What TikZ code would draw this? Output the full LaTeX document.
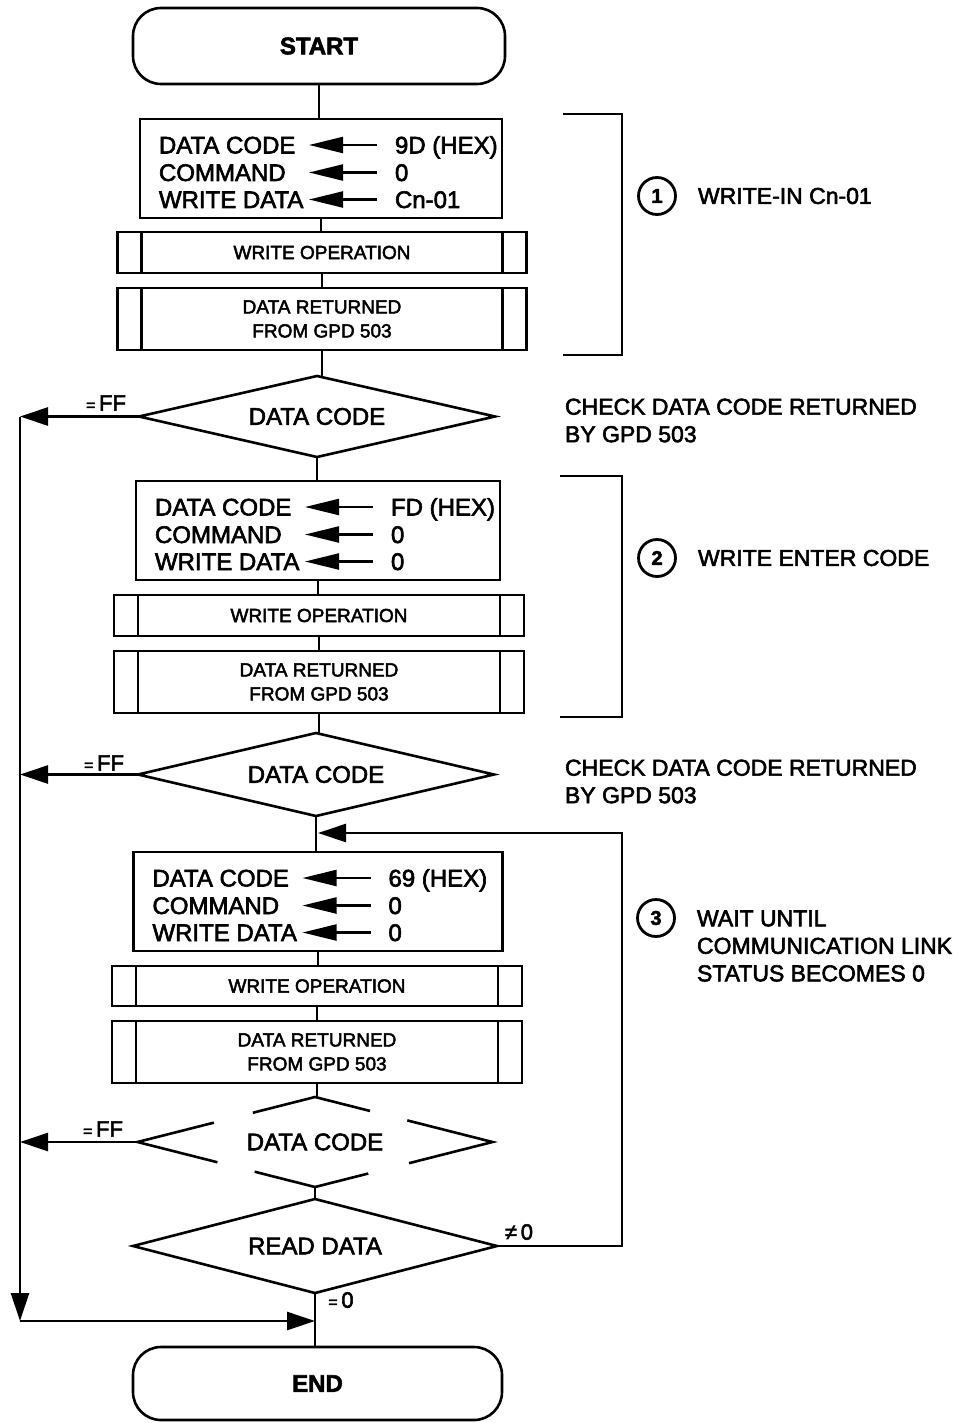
\documentclass[tikz,border=0pt]{standalone}
\usepackage{fontspec}
\setmainfont{Liberation Sans}[FakeBold=2.5]
\usetikzlibrary{arrows.meta,calc}
\newcommand\assignrows[4]{%
  \node[lbl] (#1la) at ($(#1.north west)+(19,26)$) {DATA CODE};
  \node[lbl] (#1lb) at ($(#1.north west)+(19,53.5)$) {COMMAND};
  \node[lbl] (#1lc) at ($(#1.north west)+(19,80.5)$) {WRITE DATA};
  \node[lbl] (#1va) at ($(#1.north west)+(255,26)$) {#2};
  \node[lbl] (#1vb) at ($(#1.north west)+(255,53.5)$) {#3};
  \node[lbl] (#1vc) at ($(#1.north west)+(255,80.5)$) {#4};
  \draw[ptr] ($(#1va.west)+(-18,0)$) -- ($(#1va.west)+(-86,0)$);
  \draw[ptr] ($(#1vb.west)+(-18,0)$) -- ($(#1vb.west)+(-86,0)$);
  \draw[ptr] ($(#1vc.west)+(-18,0)$) -- ($(#1vc.west)+(-86,0)$);
}
\newcommand\innerbars[1]{%
  \draw ([xshift=24pt]#1.north west) -- ([xshift=24pt]#1.south west);
  \draw ([xshift=-24pt]#1.north east) -- ([xshift=-24pt]#1.south east);
}
\begin{document}
\begin{tikzpicture}[x=1pt,y=-1pt,line width=2.6pt,
  every node/.style={inner sep=0pt,outer sep=0pt},
  term/.style={draw,line width=2.6pt,rounded corners=28pt,minimum height=76pt,
    font=\bfseries\fontsize{24}{28}\selectfont},
  setbox/.style={draw,line width=2.6pt,minimum height=99pt},
  proc/.style={draw,line width=2.6pt,align=center,font=\fontsize{19}{24}\selectfont},
  dia/.style={minimum width=#1,font=\fontsize{24}{28}\selectfont},
  lbl/.style={anchor=west,font=\fontsize{24}{28}\selectfont,text height=17pt,text depth=0pt},
  ptr/.style={-{Triangle[length=34pt,width=16pt]},line width=2.2pt},
  flow/.style={-{Triangle[length=28pt,width=18pt]},line width=2.6pt},
  note/.style={anchor=west,align=left,font=\fontsize{23}{27.5}\selectfont},
  num/.style={draw,circle,line width=2.8pt,minimum size=37pt,font=\bfseries\fontsize{20}{22}\selectfont},
  cond/.style={font=\fontsize{22}{24}\selectfont}]
\useasboundingbox (0,0) rectangle (972,1423);

% ---- section 1
\node[term,minimum width=372pt] (start) at (319,46) {START};
\node[setbox,minimum width=362pt] (b1) at (321,168.5) {};
\assignrows{b1}{9D (HEX)}{0}{Cn-01}
\node[proc,minimum width=409pt,minimum height=41pt] (wo1) at (322,252.5) {WRITE OPERATION};
\innerbars{wo1}
\node[proc,minimum width=409pt,minimum height=62pt] (dr1) at (322,319) {DATA RETURNED\\FROM GPD 503};
\innerbars{dr1}
\node[dia=356pt,minimum height=81pt] (d1) at (317,416.5) {DATA CODE};
\draw (d1.west) -- (d1.north) -- (d1.east) -- (d1.south) -- cycle;

% ---- section 2
\node[setbox,minimum width=364pt] (b2) at (318,530.5) {};
\assignrows{b2}{FD (HEX)}{0}{0}
\node[proc,minimum width=410pt,minimum height=41pt] (wo2) at (319,615.5) {WRITE OPERATION};
\innerbars{wo2}
\node[proc,minimum width=410pt,minimum height=62pt] (dr2) at (319,682) {DATA RETURNED\\FROM GPD 503};
\innerbars{dr2}
\node[dia=356pt,minimum height=83pt] (d2) at (316,774.5) {DATA CODE};
\draw (d2.west) -- (d2.north) -- (d2.east) -- (d2.south) -- cycle;

% ---- section 3
\node[setbox,minimum width=369pt] (b3) at (318,901.5) {};
\assignrows{b3}{69 (HEX)}{0}{0}
\node[proc,minimum width=410pt,minimum height=40pt] (wo3) at (317,986) {WRITE OPERATION};
\innerbars{wo3}
\node[proc,minimum width=410pt,minimum height=62pt] (dr3) at (317,1052) {DATA RETURNED\\FROM GPD 503};
\innerbars{dr3}
\node[dia=355pt,minimum height=90pt] (d3) at (315,1142) {DATA CODE};
\draw ($(d3.west)!0.43!(d3.north)$) -- (d3.west) -- ($(d3.west)!0.45!(d3.south)$);
\draw ($(d3.north)!0.35!(d3.west)$) -- (d3.north) -- ($(d3.north)!0.31!(d3.east)$);
\draw ($(d3.east)!0.48!(d3.north)$) -- (d3.east) -- ($(d3.east)!0.47!(d3.south)$);
\draw ($(d3.south)!0.34!(d3.west)$) -- (d3.south) -- ($(d3.south)!0.30!(d3.east)$);
\node[dia=364pt,minimum height=94pt] (rd) at (315,1246) {READ DATA};
\draw (rd.west) -- (rd.north) -- (rd.east) -- (rd.south) -- cycle;
\node[term,minimum width=369pt,minimum height=73pt] (end) at (317.5,1383.5) {END};

% ---- vertical connectors
\draw (start.south) -- (start.south |- b1.north);
\draw (b1.south) -- (b1.south |- wo1.north);
\draw (wo1.south) -- (wo1.south |- dr1.north);
\draw (dr1.south) -- (dr1.south |- d1.north);
\draw (d1.south) -- (d1.south |- b2.north);
\draw (b2.south) -- (b2.south |- wo2.north);
\draw (wo2.south) -- (wo2.south |- dr2.north);
\draw (dr2.south) -- (dr2.south |- d2.north);
\draw (d2.south) -- (d2.south |- b3.north);
\draw (b3.south) -- (b3.south |- wo3.north);
\draw (wo3.south) -- (wo3.south |- dr3.north);
\draw (dr3.south) -- (dr3.south |- d3.north);
\draw (d3.south) -- (d3.south |- rd.north);
\draw (rd.south) -- (rd.south |- end.north);

% ---- FF branches
\coordinate (bl) at (20,1321);
\draw[flow] (d1.west) -- (d1.west -| bl);
\draw[flow] (d2.west) -- (d2.west -| bl);
\draw[flow] (d3.west) -- (d3.west -| bl);
\draw[flow] (d1.west -| bl) -- (bl);
\draw[flow] (bl) -- (bl -| rd.south);
\node[cond] (ff1) at (106,403) {{\fontsize{16}{16}\selectfont =}\,FF};
\node[cond] (ff2) at (104,763) {{\fontsize{16}{16}\selectfont =}\,FF};
\node[cond] (ff3) at (103,1129) {{\fontsize{16}{16}\selectfont =}\,FF};

% ---- loop
\coordinate (lp) at (622,833);
\draw[flow] (rd.east) -| (lp) -- (lp -| b3.north);
\node[cond] (ne) at (519,1232) {≠\,0};
\node[cond] (eq) at (341,1300) {{\fontsize{16}{16}\selectfont =}\,0};

% ---- brackets and notes
\coordinate (k1a) at (563,114); \coordinate (k1b) at (563,355);
\draw[line width=2.2pt] (k1a) -- (k1a -| lp) -- (k1b -| lp) -- (k1b);
\coordinate (k2a) at (560,476); \coordinate (k2b) at (560,717);
\draw[line width=2.2pt] (k2a) -- (k2a -| lp) -- (k2b -| lp) -- (k2b);
\node[num] (c1) at (657,196) {1};
\node[note] (n1) at (698,196) {WRITE-IN Cn-01};
\node[num] (c2) at (657,558) {2};
\node[note] (n2) at (698,558) {WRITE ENTER CODE};
\node[num] (c3) at (656,918) {3};
\node[note] (n3) at (697,946) {WAIT UNTIL\\COMMUNICATION LINK\\STATUS BECOMES 0};
\node[note] (ck1) at (565,420.5) {CHECK DATA CODE RETURNED\\BY GPD 503};
\node[note] (ck2) at (565,781.5) {CHECK DATA CODE RETURNED\\BY GPD 503};
\end{tikzpicture}
\end{document}
